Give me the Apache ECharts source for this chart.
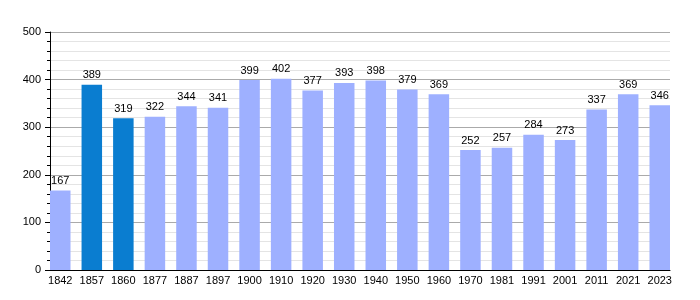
<!DOCTYPE html>
<html><head><meta charset="utf-8">
<script src="https://cdn.jsdelivr.net/npm/echarts@6/dist/echarts.min.js"></script>
<style>html,body{margin:0;padding:0;background:#fff}#c{width:700px;height:300px}</style>
</head><body><div id="c"></div>
<script>
const years = ['1842','1857','1860','1877','1887','1897','1900','1910','1920','1930','1940','1950','1960','1970','1981','1991','2001','2011','2021','2023'];
const population = [167,389,319,322,344,341,399,402,377,393,398,379,369,252,257,284,273,337,369,346];
const highlighted = ['1857','1860'];
const yTicks = [0,100,200,300,400,500];

const barFrac = 0.65; // bar width as fraction of slot
const half = barFrac/2;
const data = population.map((v,i)=>({
  value:[i+half, v],
  itemStyle:{color: highlighted.includes(years[i]) ? '#0a7dd0' : '#9eb0ff'}
}));
const chart = echarts.init(document.getElementById('c'), null, {renderer:'canvas'});
chart.setOption({
  animation:false,
  grid:{left:50,right:30,top:32,bottom:30,containLabel:false},
  xAxis:{
    type:'value', min:0, max:(years.length-1)+barFrac,
    splitLine:{show:false},
    axisLine:{show:true,onZero:false,lineStyle:{color:'#000',width:1}},
    axisTick:{show:false},
    axisLabel:{customValues:years.map((y,i)=>i+half), formatter:(v)=>years[Math.round(v-half)]||'',
      color:'#000',fontSize:11,fontFamily:'Liberation Sans, Arial, sans-serif',margin:5}
  },
  yAxis:{
    type:'value', min:yTicks[0], max:yTicks[yTicks.length-1], interval:100,
    axisLine:{show:true,lineStyle:{color:'#000',width:1}},
    axisTick:{show:true,length:5,lineStyle:{color:'#000'}},
    minorTick:{show:true,splitNumber:5,length:3,lineStyle:{color:'#000'}},
    splitLine:{show:true,lineStyle:{color:'#aaa',width:1}},
    minorSplitLine:{show:true,lineStyle:{color:'#e4e4e4',width:1}},
    axisLabel:{color:'#000',fontSize:11,fontFamily:'Liberation Sans, Arial, sans-serif',margin:9}
  },
  series:[{
    type:'bar', data:data, barWidth:'3.3%',
    label:{show:true,position:'top',distance:4,color:'#000',fontSize:11,fontFamily:'Liberation Sans, Arial, sans-serif',
      formatter:(p)=>p.value[1]}
  }]
});
// set bar width in px from axis scale
const px = chart.convertToPixel({xAxisIndex:0},1)-chart.convertToPixel({xAxisIndex:0},0);
chart.setOption({series:[{barWidth:px*barFrac}]});
</script></body></html>
